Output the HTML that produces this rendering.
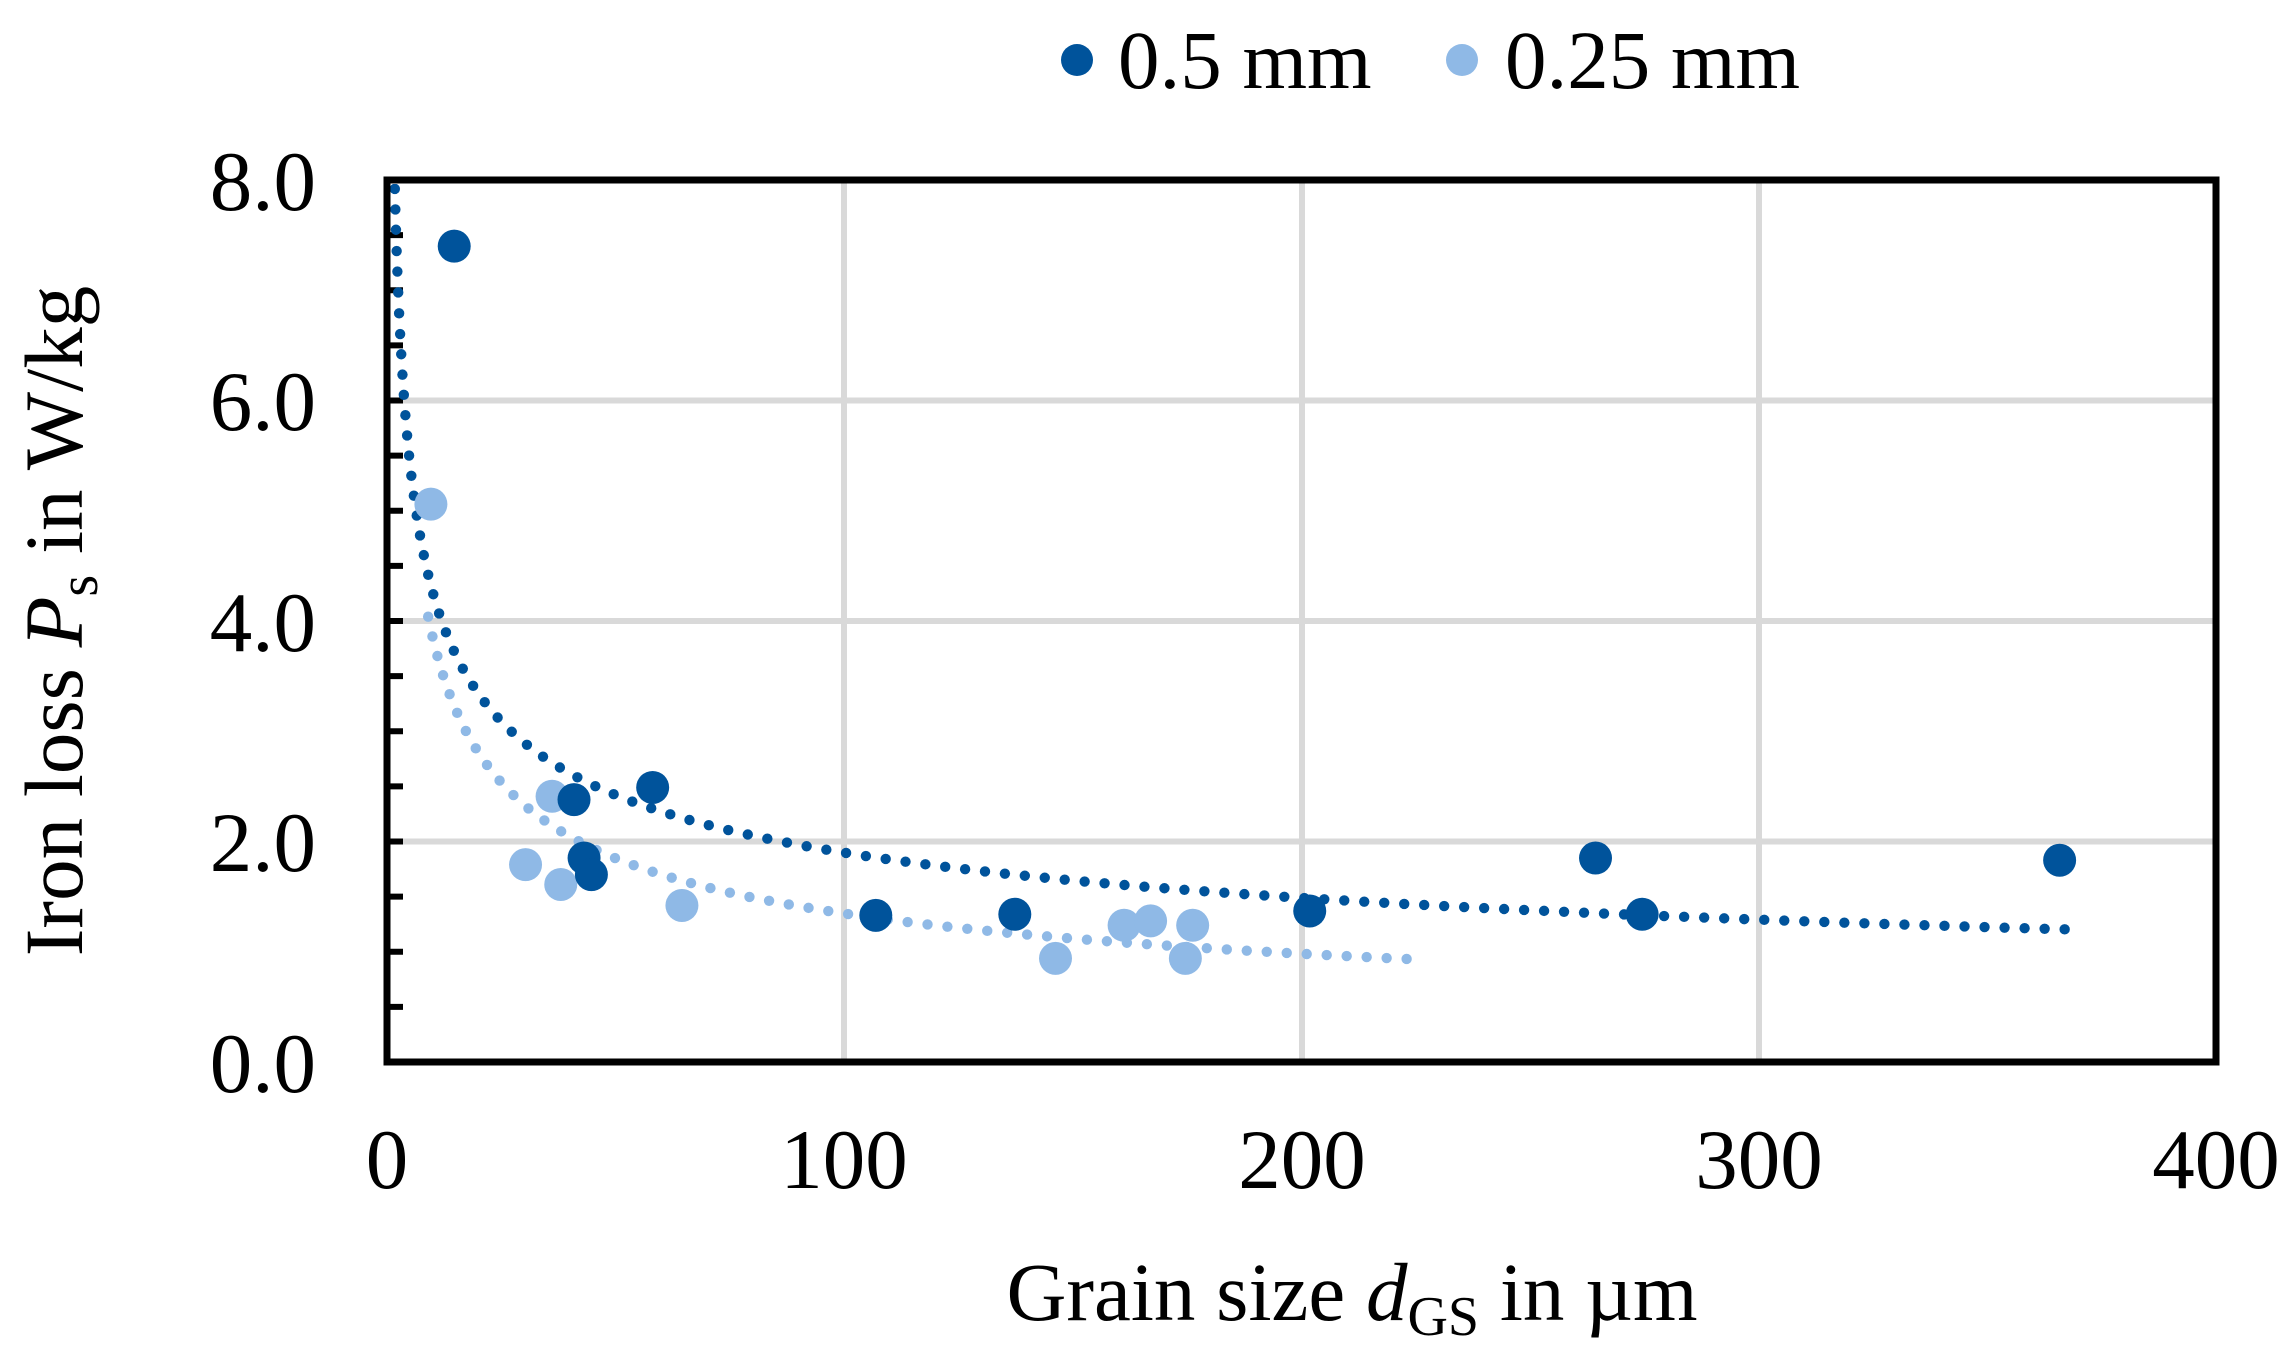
<!DOCTYPE html>
<html><head><meta charset="utf-8"><style>
html,body{margin:0;padding:0;background:#fff;}
svg{display:block;}
text{font-family:"Liberation Serif",serif;fill:#000;}
</style></head><body>
<svg id="s" width="2291" height="1364" viewBox="0 0 2291 1364" xmlns="http://www.w3.org/2000/svg">
<defs><clipPath id="cp"><rect x="380" y="184" width="1840" height="880"/></clipPath></defs>
<g stroke="#d9d9d9" stroke-width="6">
<line x1="844" y1="180" x2="844" y2="1062"/>
<line x1="1302" y1="180" x2="1302" y2="1062"/>
<line x1="1759" y1="180" x2="1759" y2="1062"/>
<line x1="387" y1="400.5" x2="2216" y2="400.5"/>
<line x1="387" y1="621" x2="2216" y2="621"/>
<line x1="387" y1="841.5" x2="2216" y2="841.5"/>
</g>
<g id="ticks" stroke="#000" stroke-width="6"></g>
<g id="trend" clip-path="url(#cp)"></g>
<g id="pts"></g>
<rect x="387" y="180" width="1829" height="882" fill="none" stroke="#000" stroke-width="7"/>
<g font-size="85" text-anchor="end">
<text x="316" y="210">8.0</text>
<text x="316" y="430">6.0</text>
<text x="316" y="651">4.0</text>
<text x="316" y="871">2.0</text>
<text x="316" y="1092">0.0</text>
</g>
<g font-size="85" text-anchor="middle">
<text x="387" y="1188">0</text>
<text x="844" y="1188">100</text>
<text x="1302" y="1188">200</text>
<text x="1759" y="1188">300</text>
<text x="2216" y="1188">400</text>
</g>
<text x="1352" y="1320" font-size="83" text-anchor="middle">Grain size <tspan font-style="italic">d</tspan><tspan font-size="56" dy="15">GS</tspan><tspan dy="-15"> in µm</tspan></text>
<text transform="translate(82,621) rotate(-90)" font-size="83" text-anchor="middle">Iron loss <tspan font-style="italic">P</tspan><tspan font-size="56" dy="15">s</tspan><tspan dy="-15"> in W/kg</tspan></text>
<circle cx="1077" cy="60" r="16" fill="#00539b"/>
<text x="1118" y="88" font-size="83">0.5 mm</text>
<circle cx="1462" cy="60" r="16" fill="#8fb9e6"/>
<text x="1505" y="88" font-size="83">0.25 mm</text>
</svg>
<script>
var NS="http://www.w3.org/2000/svg";
function X(v){return 387+v*4.5725;}
function Y(v){return 1062-v*110.25;}
var tk=document.getElementById('ticks');
for(var i=1;i<16;i++){var l=document.createElementNS(NS,'line');var y=Y(i*0.5);
l.setAttribute('x1',387);l.setAttribute('x2',403);l.setAttribute('y1',y);l.setAttribute('y2',y);tk.appendChild(l);}
var D="#00539b",L="#8fb9e6";
var tr=document.getElementById('trend');
function trend(a,b,x0,x1,c){
 var x=x0,px=X(x),py=Y(a*Math.pow(x,b));
 while(x<=x1){
  var cc=document.createElementNS(NS,'circle');cc.setAttribute('cx',px);cc.setAttribute('cy',py);cc.setAttribute('r',5.2);cc.setAttribute('fill',c);tr.appendChild(cc);
  var d=0,nx=x,qx,qy;
  while(d<20&&nx<=x1){nx+=0.01;qx=X(nx);qy=Y(a*Math.pow(nx,b));d=Math.hypot(qx-px,qy-py);}
  x=nx;px=qx;py=qy;
 }
}
trend(11,-0.456,9,226,L);
trend(9.56,-0.351,1.5,370,D);
var pg=document.getElementById('pts');
function p(x,y,c){var cc=document.createElementNS(NS,'circle');cc.setAttribute('cx',X(x));cc.setAttribute('cy',Y(y));cc.setAttribute('r',16.5);cc.setAttribute('fill',c);pg.appendChild(cc);}
[[9.6,5.06],[36.1,2.41],[30.3,1.79],[38.0,1.61],[64.5,1.42],[146.2,0.94],[161.2,1.24],[167.0,1.28],[176.2,1.24],[174.6,0.94]].forEach(function(q){p(q[0],q[1],L);});
[[14.7,7.40],[40.9,2.38],[58.1,2.49],[43.1,1.85],[44.7,1.70],[106.9,1.33],[137.3,1.34],[201.8,1.37],[264.3,1.85],[274.5,1.34],[365.8,1.83]].forEach(function(q){p(q[0],q[1],D);});
</script>
</body></html>
